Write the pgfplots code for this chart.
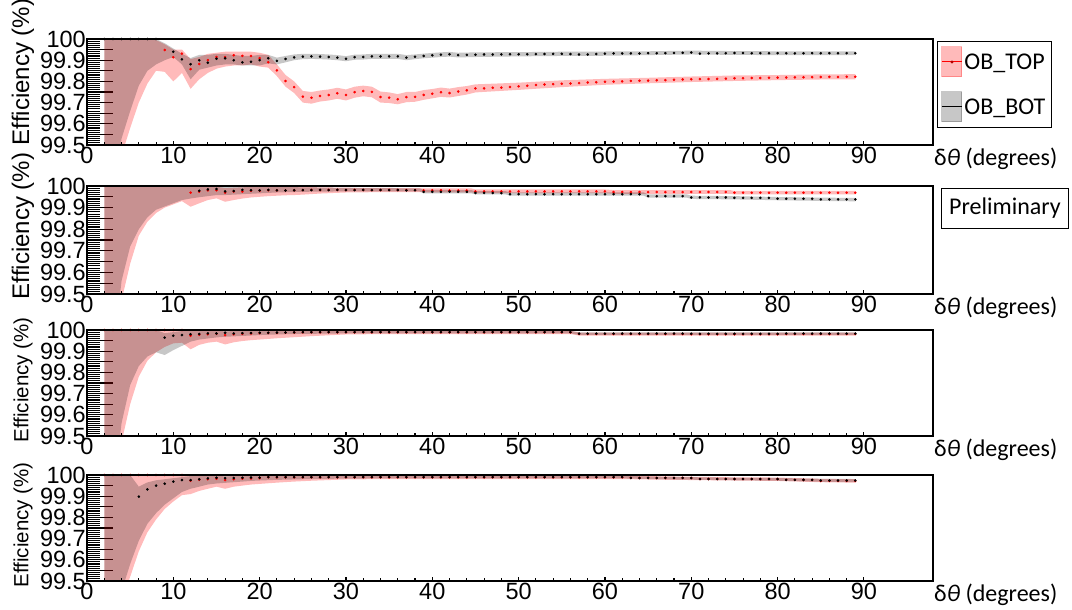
\documentclass[border=0pt]{standalone}
\usepackage{pgfplots}
\pgfplotsset{compat=1.18}
\usepackage{pgfplotstable}
\usepackage{fontspec}
\setmainfont{Liberation Sans}
\newfontfamily\carlito{Carlito}

% ================= Panel 1 =================
\pgfplotstableread{
x tv bv
2 nan 100
3 nan 100
4 nan 100
5 nan 100
6 nan 100
7 nan 100
8 nan 100
9 99.948 nan
10 99.914 99.940
11 99.931 99.904
12 99.858 99.881
13 99.882 99.900
14 99.900 99.888
15 99.915 99.907
16 99.914 99.909
17 99.923 99.900
18 99.920 99.890
19 99.920 99.893
20 99.910 99.900
21 99.890 99.909
22 99.852 99.897
23 99.802 99.906
24 99.773 99.913
25 99.728 99.917
26 99.723 99.918
27 99.731 99.917
28 99.736 99.915
29 99.744 99.912
30 99.736 99.907
31 99.749 99.914
32 99.755 99.915
33 99.750 99.918
34 99.726 99.918
35 99.723 99.918
36 99.716 99.918
37 99.726 99.912
38 99.727 99.916
39 99.736 99.920
40 99.742 99.923
41 99.749 99.926
42 99.745 99.928
43 99.752 99.924
44 99.758 99.925
45 99.767 99.926
46 99.767 99.927
47 99.770 99.927
48 99.771 99.927
49 99.774 99.928
50 99.777 99.928
51 99.779 99.928
52 99.783 99.929
53 99.785 99.929
54 99.787 99.930
55 99.789 99.930
56 99.790 99.929
57 99.792 99.927
58 99.795 99.927
59 99.796 99.929
60 99.798 99.931
61 99.799 99.932
62 99.800 99.932
63 99.802 99.932
64 99.803 99.932
65 99.804 99.933
66 99.805 99.933
67 99.806 99.933
68 99.808 99.934
69 99.809 99.935
70 99.810 99.936
71 99.811 99.931
72 99.811 99.932
73 99.812 99.932
74 99.813 99.933
75 99.815 99.934
76 99.815 99.934
77 99.816 99.933
78 99.816 99.933
79 99.817 99.933
80 99.818 99.933
81 99.818 99.933
82 99.819 99.932
83 99.819 99.933
84 99.820 99.933
85 99.821 99.933
86 99.821 99.933
87 99.821 99.933
88 99.822 99.933
89 99.822 99.933
}\PoneD
% OB_TOP band outline (upper edge left to right, then lower edge right to left)
\pgfplotstableread[row sep=\\]{
x y\\
2 100\\ 3 100\\ 4 100\\ 5 100\\ 6 100\\ 7 100\\ 8 99.995\\ 9 99.975\\ 10 99.95\\ 11 99.95\\
12 99.905\\ 13 99.915\\ 14 99.93\\ 15 99.935\\ 16 99.94\\ 17 99.94\\ 18 99.94\\ 19 99.94\\ 20 99.935\\
21 99.925\\ 22 99.88\\ 23 99.83\\ 24 99.80\\ 25 99.755\\ 26 99.75\\ 27 99.757\\ 28 99.762\\ 29 99.77\\
30 99.762\\ 31 99.775\\ 32 99.78\\ 33 99.775\\ 34 99.752\\ 35 99.748\\ 36 99.74\\ 37 99.75\\ 38 99.75\\
39 99.759\\ 40 99.764\\ 41 99.771\\ 42 99.766\\ 43 99.773\\ 44 99.778\\ 45 99.786\\ 50 99.794\\
55 99.805\\ 60 99.812\\ 65 99.817\\ 70 99.823\\ 75 99.828\\ 80 99.83\\ 85 99.833\\ 89 99.834\\
89 99.81\\ 85 99.809\\ 80 99.806\\ 75 99.802\\ 70 99.797\\ 65 99.791\\ 60 99.784\\ 55 99.773\\
50 99.76\\ 45 99.748\\ 44 99.738\\ 43 99.731\\ 42 99.724\\ 41 99.727\\ 40 99.72\\ 39 99.713\\
38 99.704\\ 37 99.702\\ 36 99.692\\ 35 99.698\\ 34 99.70\\ 33 99.725\\ 32 99.73\\ 31 99.723\\
30 99.71\\ 29 99.718\\ 28 99.71\\ 27 99.705\\ 26 99.695\\ 25 99.70\\ 24 99.745\\ 23 99.775\\
22 99.825\\ 21 99.865\\ 20 99.87\\ 19 99.88\\ 18 99.875\\ 17 99.875\\ 16 99.87\\ 15 99.86\\
14 99.84\\ 13 99.81\\ 12 99.765\\ 11 99.84\\ 10 99.80\\ 9 99.845\\ 8 99.85\\ 7 99.79\\ 6 99.70\\
5 99.58\\ 4 99.45\\ 3 98.80\\ 2 98.00\\
}\PoneT
% OB_BOT band outline
\pgfplotstableread[row sep=\\]{
x y\\
2 100\\ 3 100\\ 4 100\\ 5 100\\ 6 100\\ 7 100\\ 8 100\\ 9 99.98\\ 10 99.955\\ 11 99.93\\ 12 99.91\\
13 99.925\\ 14 99.925\\ 15 99.93\\ 16 99.93\\ 17 99.925\\ 18 99.92\\ 19 99.92\\ 20 99.925\\
21 99.925\\ 22 99.912\\ 23 99.92\\ 24 99.927\\ 25 99.93\\ 26 99.93\\ 27 99.929\\ 28 99.927\\
29 99.924\\ 30 99.919\\ 31 99.926\\ 32 99.927\\ 33 99.93\\ 34 99.93\\ 35 99.93\\ 36 99.93\\
37 99.924\\ 38 99.927\\ 39 99.931\\ 40 99.934\\ 41 99.937\\ 42 99.939\\ 43 99.935\\ 44 99.936\\
45 99.937\\ 50 99.938\\ 55 99.94\\ 60 99.941\\ 65 99.942\\ 70 99.945\\ 75 99.943\\ 80 99.942\\
85 99.942\\ 89 99.942\\
89 99.924\\ 85 99.924\\ 80 99.924\\ 75 99.925\\ 70 99.927\\ 65 99.924\\ 60 99.921\\ 55 99.92\\
50 99.918\\ 45 99.915\\ 44 99.914\\ 43 99.913\\ 42 99.917\\ 41 99.915\\ 40 99.912\\ 39 99.909\\
38 99.905\\ 37 99.90\\ 36 99.906\\ 35 99.906\\ 34 99.906\\ 33 99.906\\ 32 99.903\\ 31 99.902\\
30 99.895\\ 29 99.90\\ 28 99.903\\ 27 99.905\\ 26 99.906\\ 25 99.905\\ 24 99.90\\ 23 99.89\\
22 99.88\\ 21 99.885\\ 20 99.875\\ 19 99.875\\ 18 99.875\\ 17 99.88\\ 16 99.88\\ 15 99.875\\
14 99.865\\ 13 99.855\\ 12 99.81\\ 11 99.88\\ 10 99.915\\ 9 99.90\\ 8 99.88\\ 7 99.85\\ 6 99.78\\
5 99.66\\ 4 99.53\\ 3 99.20\\ 2 98.50\\
}\PoneB

% ================= Panel 2 =================
\pgfplotstableread{
x tv bv
12 99.969 nan
13 99.974 99.978
14 99.980 99.984
15 99.980 99.986
16 99.969 99.975
17 99.974 99.977
18 99.974 99.982
19 99.978 99.980
20 99.978 99.980
21 99.980 99.982
22 99.980 99.980
23 99.979 99.979
24 99.980 99.980
25 99.981 99.981
26 99.982 99.981
27 99.981 99.982
28 99.982 99.981
29 99.982 99.982
30 99.981 99.981
31 99.982 99.981
32 99.982 99.982
33 99.981 99.981
34 99.981 99.981
35 99.982 99.981
36 99.981 99.981
37 99.981 99.980
38 99.981 99.980
39 99.980 99.973
40 99.980 99.973
41 99.980 99.973
42 99.979 99.974
43 99.979 99.973
44 99.979 99.973
45 99.975 99.968
46 99.975 99.968
47 99.975 99.968
48 99.975 99.967
49 99.975 99.962
50 99.975 99.962
51 99.975 99.962
52 99.975 99.962
53 99.975 99.962
54 99.975 99.962
55 99.975 99.962
56 99.975 99.962
57 99.975 99.962
58 99.975 99.962
59 99.975 99.962
60 99.975 99.962
61 99.972 99.962
62 99.972 99.962
63 99.972 99.962
64 99.972 99.962
65 99.972 99.953
66 99.972 99.953
67 99.972 99.953
68 99.972 99.953
69 99.972 99.953
70 99.972 99.947
71 99.972 99.947
72 99.972 99.947
73 99.972 99.947
74 99.972 99.947
75 99.969 99.945
76 99.969 99.945
77 99.969 99.945
78 99.969 99.945
79 99.969 99.945
80 99.969 99.941
81 99.969 99.941
82 99.969 99.941
83 99.969 99.941
84 99.969 99.941
85 99.969 99.938
86 99.969 99.938
87 99.969 99.938
88 99.969 99.938
89 99.969 99.938
}\PtwoD
\pgfplotstableread[row sep=\\]{
x y\\
2 100\\ 11 100\\ 12 99.995\\ 13 99.995\\ 14 99.997\\ 15 99.997\\ 16 99.99\\ 17 99.992\\ 18 99.994\\
19 99.995\\ 25 99.995\\ 27 99.994\\ 30 99.992\\ 38.5 99.99\\ 39 99.989\\ 44.5 99.989\\ 45 99.984\\
60 99.984\\ 61 99.981\\ 74.5 99.981\\ 75 99.977\\ 89 99.977\\
89 99.961\\ 75 99.961\\ 74.5 99.964\\ 61 99.964\\ 60 99.967\\ 45 99.967\\ 44.5 99.971\\ 39 99.971\\
35 99.972\\ 30 99.970\\ 27 99.965\\ 25 99.96\\ 24 99.958\\ 23 99.957\\ 22 99.955\\ 21 99.953\\
20 99.95\\ 19 99.947\\ 18 99.942\\ 17 99.935\\ 16 99.927\\ 15 99.943\\ 14 99.935\\ 13 99.92\\
12 99.904\\ 11 99.93\\ 10 99.915\\ 9 99.90\\ 8 99.875\\ 7 99.835\\ 6 99.77\\ 5 99.64\\ 4 99.47\\
3 98.8\\ 2 98.0\\
}\PtwoT
\pgfplotstableread[row sep=\\]{
x y\\
2 100\\ 12 100\\ 13 99.998\\ 14 99.998\\ 15 99.998\\ 16 99.995\\ 17 99.995\\ 18 99.997\\ 19 99.996\\
20 99.995\\ 22 99.995\\ 25 99.994\\ 30 99.991\\ 38.5 99.989\\ 39 99.982\\ 44.5 99.981\\ 45 99.976\\
48.5 99.976\\ 49 99.970\\ 64.5 99.970\\ 65 99.961\\ 69.5 99.961\\ 70 99.955\\ 75 99.953\\
80 99.949\\ 85 99.946\\ 89 99.945\\
89 99.929\\ 85 99.931\\ 80 99.934\\ 75 99.938\\ 70 99.940\\ 69.5 99.946\\ 65 99.946\\ 64.5 99.955\\
49 99.955\\ 48.5 99.961\\ 45 99.961\\ 44.5 99.966\\ 39 99.966\\ 38.5 99.975\\ 30 99.975\\
27 99.974\\ 25 99.973\\ 24 99.972\\ 23 99.971\\ 22 99.97\\ 21 99.968\\ 20 99.966\\ 19 99.964\\
18 99.962\\ 17 99.96\\ 16 99.958\\ 15 99.958\\ 14 99.953\\ 13 99.948\\ 12 99.942\\ 11 99.935\\
10 99.92\\ 9 99.905\\ 8 99.89\\ 7 99.855\\ 6 99.80\\ 5 99.72\\ 4 99.56\\ 3 99.2\\ 2 98.5\\
}\PtwoB

% ================= Panel 3 =================
\pgfplotstableread{
x tv bv
2 100 nan
3 100 nan
4 100 nan
5 100 nan
6 100 nan
7 100 nan
8 100 nan
9 100 99.964
10 100 99.973
11 100 99.976
12 99.973 99.980
13 99.978 99.981
14 99.980 99.984
15 99.982 99.984
16 99.976 99.987
17 99.980 99.984
18 99.982 99.985
19 99.984 99.986
20 99.985 99.987
21 99.986 99.987
22 99.986 99.988
23 99.987 99.988
24 99.988 99.989
25 99.989 99.990
26 99.989 99.990
27 99.989 99.990
28 99.989 99.990
29 99.989 99.990
30 99.989 99.990
31 99.989 99.990
32 99.989 99.990
33 99.989 99.990
34 99.989 99.990
35 99.989 99.990
36 99.989 99.990
37 99.989 99.990
38 99.989 99.990
39 99.989 99.990
40 99.989 99.990
41 99.989 99.990
42 99.989 99.990
43 99.989 99.990
44 99.989 99.990
45 99.989 99.990
46 99.989 99.990
47 99.989 99.990
48 99.989 99.990
49 99.989 99.990
50 99.989 99.990
51 99.989 99.990
52 99.989 99.990
53 99.989 99.990
54 99.989 99.990
55 99.989 99.990
56 99.989 99.990
57 99.981 99.983
58 99.981 99.983
59 99.981 99.983
60 99.981 99.983
61 99.981 99.983
62 99.981 99.983
63 99.981 99.983
64 99.981 99.983
65 99.981 99.983
66 99.981 99.983
67 99.981 99.983
68 99.981 99.983
69 99.981 99.983
70 99.980 99.982
71 99.980 99.982
72 99.980 99.982
73 99.980 99.982
74 99.980 99.982
75 99.980 99.982
76 99.980 99.982
77 99.980 99.982
78 99.980 99.982
79 99.980 99.982
80 99.980 99.982
81 99.981 99.983
82 99.981 99.983
83 99.981 99.983
84 99.981 99.983
85 99.981 99.983
86 99.981 99.983
87 99.981 99.983
88 99.981 99.983
89 99.981 99.983
}\PthreeD
\pgfplotstableread[row sep=\\]{
x y\\
2 100\\ 11 100\\ 12 99.995\\ 13 99.996\\ 14 99.997\\ 15 99.997\\ 16 99.993\\ 17 99.995\\ 18 99.996\\
20 99.997\\ 30 99.997\\ 56 99.996\\ 57 99.988\\ 89 99.988\\
89 99.974\\ 57 99.974\\ 56 99.981\\ 35 99.981\\ 30 99.979\\ 28 99.975\\ 26 99.971\\ 24 99.966\\
22 99.961\\ 20 99.955\\ 19 99.952\\ 18 99.948\\ 17 99.942\\ 16 99.932\\ 15 99.945\\ 14 99.94\\
13 99.93\\ 12 99.909\\ 11 99.94\\ 10 99.937\\ 9 99.92\\ 8 99.895\\ 7 99.855\\ 6 99.78\\ 5 99.65\\
4 99.47\\ 3 98.8\\ 2 98.0\\
}\PthreeT
\pgfplotstableread[row sep=\\]{
x y\\
2 100\\ 8 100\\ 9 99.985\\ 10 99.99\\ 11 99.995\\ 12 99.997\\ 14 99.998\\ 16 99.998\\ 17 99.997\\
28 99.997\\ 30 99.996\\ 56 99.996\\ 57 99.989\\ 89 99.989\\
89 99.977\\ 57 99.977\\ 56 99.984\\ 30 99.984\\ 28 99.983\\ 26 99.982\\ 24 99.981\\ 22 99.979\\
20 99.976\\ 19 99.974\\ 18 99.972\\ 17 99.970\\ 16 99.968\\ 15 99.965\\ 14 99.96\\ 13 99.955\\
12 99.945\\ 11 99.925\\ 10 99.905\\ 9 99.882\\ 8 99.895\\ 7 99.875\\ 6 99.83\\ 5 99.74\\ 4 99.56\\
3 99.2\\ 2 98.5\\
}\PthreeB

% ================= Panel 4 =================
\pgfplotstableread{
x tv bv
2 100 nan
3 100 nan
4 100 nan
5 100 nan
6 100 99.898
7 100 99.932
8 100 99.950
9 100 99.959
10 100 99.969
11 100 99.976
12 99.973 99.976
13 99.978 99.980
14 99.980 99.984
15 99.982 99.987
16 99.976 99.985
17 99.980 99.986
18 99.983 99.987
19 99.984 99.988
20 99.985 99.988
21 99.989 99.990
22 99.989 99.990
23 99.989 99.990
24 99.989 99.990
25 99.989 99.990
26 99.989 99.990
27 99.989 99.990
28 99.989 99.990
29 99.989 99.990
30 99.989 99.990
31 99.989 99.990
32 99.989 99.990
33 99.989 99.990
34 99.989 99.990
35 99.989 99.990
36 99.989 99.990
37 99.989 99.990
38 99.989 99.990
39 99.989 99.990
40 99.989 99.990
41 99.989 99.990
42 99.989 99.990
43 99.989 99.990
44 99.989 99.990
45 99.989 99.990
46 99.989 99.990
47 99.989 99.990
48 99.989 99.990
49 99.989 99.990
50 99.989 99.990
51 99.989 99.990
52 99.989 99.990
53 99.989 99.990
54 99.989 99.990
55 99.989 99.990
56 99.989 99.990
57 99.989 99.990
58 99.989 99.990
59 99.989 99.990
60 99.989 99.990
61 99.989 99.990
62 99.989 99.990
63 99.986 99.986
64 99.986 99.986
65 99.986 99.986
66 99.986 99.986
67 99.986 99.986
68 99.986 99.986
69 99.986 99.986
70 99.986 99.986
71 99.981 99.981
72 99.981 99.981
73 99.981 99.981
74 99.981 99.981
75 99.981 99.981
76 99.981 99.981
77 99.981 99.981
78 99.981 99.981
79 99.981 99.981
80 99.981 99.981
81 99.977 99.977
82 99.977 99.977
83 99.977 99.977
84 99.977 99.977
85 99.972 99.974
86 99.972 99.974
87 99.972 99.974
88 99.972 99.974
89 99.972 99.974
}\PfourD
\pgfplotstableread[row sep=\\]{
x y\\
2 100\\ 11 100\\ 12 99.995\\ 13 99.996\\ 14 99.997\\ 15 99.997\\ 16 99.993\\ 17 99.995\\ 18 99.996\\
20 99.997\\ 62 99.997\\ 66 99.994\\ 75 99.989\\ 80 99.988\\ 85 99.982\\ 89 99.980\\
89 99.964\\ 85 99.966\\ 80 99.972\\ 75 99.974\\ 66 99.978\\ 62 99.981\\ 35 99.981\\ 30 99.979\\
28 99.976\\ 26 99.973\\ 24 99.969\\ 22 99.964\\ 20 99.958\\ 19 99.955\\ 18 99.95\\ 17 99.945\\
16 99.935\\ 15 99.945\\ 14 99.935\\ 13 99.925\\ 12 99.91\\ 11 99.905\\ 10 99.875\\ 9 99.84\\
8 99.79\\ 7 99.73\\ 6 99.64\\ 5 99.52\\ 4 99.40\\ 3 98.8\\ 2 98.0\\
}\PfourT
\pgfplotstableread[row sep=\\]{
x y\\
2 100\\ 5 100\\ 6 99.945\\ 7 99.965\\ 8 99.975\\ 9 99.98\\ 10 99.985\\ 11 99.99\\ 12 99.995\\
15 99.998\\ 16 99.997\\ 35 99.996\\ 62 99.996\\ 66 99.992\\ 75 99.987\\ 80 99.986\\ 85 99.982\\
89 99.981\\
89 99.966\\ 85 99.968\\ 80 99.973\\ 75 99.975\\ 66 99.980\\ 62 99.984\\ 35 99.984\\ 30 99.983\\
28 99.982\\ 26 99.981\\ 24 99.979\\ 22 99.977\\ 20 99.974\\ 19 99.972\\ 18 99.969\\ 17 99.966\\
16 99.963\\ 15 99.96\\ 14 99.955\\ 13 99.945\\ 12 99.935\\ 11 99.92\\ 10 99.89\\ 9 99.86\\
8 99.82\\ 7 99.77\\ 6 99.69\\ 5 99.58\\ 4 99.45\\ 3 99.1\\ 2 98.5\\
}\PfourB

\pgfplotsset{
  effbase/.style={
    width=846pt, scale only axis, anchor=south west,
    xmin=0, xmax=98, ymin=99.5, ymax=100,
    axis line style={line width=2pt},
    tick style={black, line width=1.1pt},
    tick align=inside,
  },
  effdata/.style={
    xtick=\empty,
    ytick={99.5,99.55,99.6,99.65,99.7,99.75,99.8,99.85,99.9,99.95,100},
    yticklabels={99.5,,99.6,,99.7,,99.8,,99.9,,100},
    minor y tick num=4, ytick pos=left,
    major tick length=26pt, minor tick length=13pt,
    yticklabel style={font=\fontsize{23.5}{23.5}\selectfont, inner sep=1pt},
    ylabel={Efficiency (\%)},
    ylabel style={anchor=center, font=\fontsize{24}{24}\selectfont},
  },
  effx/.style={
    ytick=\empty,
    xtick={0,10,...,90}, xticklabels={0,10,20,30,40,50,60,70,80,90},
    minor x tick num=4, xtick pos=left,
    major tick length=4pt, minor tick length=3pt,
    xticklabel style={font=\fontsize{23.5}{23.5}\selectfont, inner sep=1.5pt},
    xlabel={\carlito δ\textit{θ} (degrees)},
    xlabel style={at={(rel axis cs:1,0)}, anchor=north west, inner sep=0pt, xshift=1pt, yshift=-3pt, font=\fontsize{24}{24}\selectfont},
  },
  topband/.style={fill=red, fill opacity=0.27, draw=none, forget plot},
  botband/.style={fill=black, fill opacity=0.22, draw=none, forget plot},
  topdots/.style={only marks, mark=*, mark size=1.1pt, red, forget plot},
  botdots/.style={only marks, mark=*, mark size=1.1pt, black, forget plot},
}

\newcommand{\drawpanel}[3]{%
  \addplot[topband] table[x=x,y=y]{#2};
  \addplot[botband] table[x=x,y=y]{#3};
  \addplot[topdots] table[x=x,y=tv]{#1};
  \addplot[botdots] table[x=x,y=bv]{#1};
}
\newcommand{\ghost}[1]{%
  \addplot[draw=none, mark=none, forget plot] table[x=x,y=bv]{#1};
}

\begin{document}
\begin{tikzpicture}
\useasboundingbox (0,0) rectangle (1072pt,610pt);

% Panel 1
\begin{axis}[effbase, effdata, at={(87pt,465pt)}, height=106pt, name=a1,
  ylabel style={at={(rel axis cs:-0.0757,0.689)}},
  legend style={at={(rel axis cs:1,1)}, anchor=north west, xshift=4pt, yshift=-2pt,
    draw=black, line width=1pt, font=\carlito\fontsize{24}{24}\selectfont,
    row sep=14pt, inner xsep=4pt, inner ysep=5pt},
  legend cell align=left]
  \drawpanel{\PoneD}{\PoneT}{\PoneB}
  \addlegendimage{legend image code/.code={
    \fill[red, opacity=0.27] (0pt,-15pt) rectangle (20pt,15pt);
    \draw[red, line width=1pt] (0pt,0pt) -- (20pt,0pt);
    \fill[red!70!black] (10pt,0pt) circle (1pt);}}
  \addlegendentry{OB\_TOP}
  \addlegendimage{legend image code/.code={
    \fill[black, opacity=0.22] (0pt,-15pt) rectangle (20pt,15pt);
    \draw[black, line width=1pt] (0pt,0pt) -- (20pt,0pt);}}
  \addlegendentry{OB\_BOT}
\end{axis}
\begin{axis}[effbase, effx, at={(87pt,465pt)}, height=106pt]
  \ghost{\PoneD}
\end{axis}

% Panel 2
\begin{axis}[effbase, effdata, at={(87pt,316pt)}, height=108pt, name=a2,
  ylabel style={at={(rel axis cs:-0.0757,0.63)}}]
  \drawpanel{\PtwoD}{\PtwoT}{\PtwoB}
\end{axis}
\begin{axis}[effbase, effx, at={(87pt,316pt)}, height=108pt]
  \ghost{\PtwoD}
\end{axis}
\node[draw=black, line width=1pt, anchor=north west, minimum width=127pt, minimum height=40pt,
  inner sep=0pt, font=\carlito\fontsize{24}{24}\selectfont]
  at ([xshift=8pt,yshift=-2pt]a2.north east) {Preliminary};

% Panel 3
\begin{axis}[effbase, effdata, at={(87pt,174pt)}, height=106pt,
  ylabel style={at={(rel axis cs:-0.0757,0.53)}, font=\fontsize{20.5}{20.5}\selectfont}]
  \drawpanel{\PthreeD}{\PthreeT}{\PthreeB}
\end{axis}
\begin{axis}[effbase, effx, at={(87pt,174pt)}, height=106pt]
  \ghost{\PthreeD}
\end{axis}

% Panel 4
\begin{axis}[effbase, effdata, at={(87pt,29pt)}, height=106pt,
  ylabel style={at={(rel axis cs:-0.0757,0.53)}, font=\fontsize{20.5}{20.5}\selectfont}]
  \drawpanel{\PfourD}{\PfourT}{\PfourB}
\end{axis}
\begin{axis}[effbase, effx, at={(87pt,29pt)}, height=106pt]
  \ghost{\PfourD}
\end{axis}
\end{tikzpicture}
\end{document}
